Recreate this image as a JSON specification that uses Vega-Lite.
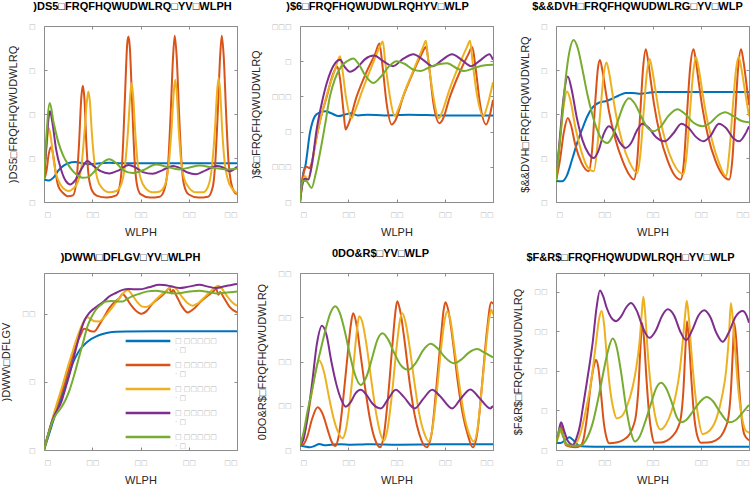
{
"$schema": "https://vega.github.io/schema/vega-lite/v6.json",
"padding": {"left": 0, "top": 0, "right": 0, "bottom": 0},
"background": "white",
"datasets": {
"p1": [
{"s":1,"t":0,"v":0.51},{"s":1,"t":2,"v":0.49},{"s":1,"t":4,"v":0.56},{"s":1,"t":6,"v":0.72},{"s":1,"t":8,"v":0.82},{"s":1,"t":10,"v":0.88},{"s":1,"t":13,"v":0.91},{"s":1,"t":16,"v":0.88},{"s":1,"t":19,"v":0.86},{"s":1,"t":23,"v":0.88},{"s":1,"t":27,"v":0.89},{"s":1,"t":32,"v":0.88},{"s":1,"t":40,"v":0.88},{"s":1,"t":50,"v":0.88},{"s":1,"t":60,"v":0.88},{"s":1,"t":70,"v":0.88},{"s":1,"t":80,"v":0.88},
{"s":2,"t":0,"v":0.51},{"s":2,"t":1,"v":0.7},{"s":2,"t":2,"v":1.1},{"s":2,"t":3,"v":1.25},{"s":2,"t":4,"v":1.0},{"s":2,"t":5,"v":0.6},{"s":2,"t":6,"v":0.35},{"s":2,"t":8,"v":0.2},{"s":2,"t":10,"v":0.13},{"s":2,"t":12,"v":0.15},{"s":2,"t":13.5,"v":0.5},{"s":2,"t":14.5,"v":1.3},{"s":2,"t":15.5,"v":2.4},{"s":2,"t":16.1,"v":2.64},{"s":2,"t":16.8,"v":2.3},{"s":2,"t":17.5,"v":1.4},{"s":2,"t":18.5,"v":0.6},{"s":2,"t":20,"v":0.25},{"s":2,"t":22,"v":0.14},{"s":2,"t":26,"v":0.1},{"s":2,"t":30,"v":0.15},{"s":2,"t":31.5,"v":0.4},{"s":2,"t":32.5,"v":1.0},{"s":2,"t":33.5,"v":2.3},{"s":2,"t":34.5,"v":3.6},{"s":2,"t":35,"v":3.76},{"s":2,"t":35.6,"v":3.5},{"s":2,"t":36.5,"v":2.3},{"s":2,"t":37.5,"v":1.0},{"s":2,"t":38.5,"v":0.4},{"s":2,"t":40,"v":0.18},{"s":2,"t":44,"v":0.1},{"s":2,"t":48,"v":0.12},{"s":2,"t":50,"v":0.3},{"s":2,"t":51.5,"v":0.9},{"s":2,"t":52.5,"v":2.0},{"s":2,"t":53.5,"v":3.3},{"s":2,"t":54.2,"v":3.78},{"s":2,"t":55,"v":3.3},{"s":2,"t":56,"v":2.0},{"s":2,"t":57,"v":0.9},{"s":2,"t":58,"v":0.4},{"s":2,"t":60,"v":0.17},{"s":2,"t":64,"v":0.1},{"s":2,"t":68,"v":0.12},{"s":2,"t":70,"v":0.35},{"s":2,"t":71,"v":0.9},{"s":2,"t":72,"v":2.0},{"s":2,"t":73,"v":3.3},{"s":2,"t":73.7,"v":3.78},{"s":2,"t":74.5,"v":3.3},{"s":2,"t":75.5,"v":2.0},{"s":2,"t":76.5,"v":0.9},{"s":2,"t":77.5,"v":0.45},{"s":2,"t":79,"v":0.22},{"s":2,"t":80,"v":0.18},
{"s":3,"t":0,"v":0.51},{"s":3,"t":1,"v":1.2},{"s":3,"t":2,"v":1.68},{"s":3,"t":3,"v":1.4},{"s":3,"t":4,"v":0.95},{"s":3,"t":5,"v":0.65},{"s":3,"t":7,"v":0.38},{"s":3,"t":9,"v":0.27},{"s":3,"t":10.5,"v":0.25},{"s":3,"t":12,"v":0.3},{"s":3,"t":14,"v":0.45},{"s":3,"t":15.5,"v":0.8},{"s":3,"t":16.8,"v":1.6},{"s":3,"t":17.8,"v":2.3},{"s":3,"t":18.4,"v":2.51},{"s":3,"t":19,"v":2.3},{"s":3,"t":19.8,"v":1.6},{"s":3,"t":20.8,"v":0.95},{"s":3,"t":22,"v":0.55},{"s":3,"t":24,"v":0.32},{"s":3,"t":27,"v":0.22},{"s":3,"t":30,"v":0.25},{"s":3,"t":32,"v":0.4},{"s":3,"t":33.5,"v":0.8},{"s":3,"t":34.8,"v":1.6},{"s":3,"t":35.8,"v":2.45},{"s":3,"t":36.3,"v":2.7},{"s":3,"t":36.9,"v":2.45},{"s":3,"t":37.8,"v":1.6},{"s":3,"t":38.8,"v":0.9},{"s":3,"t":40,"v":0.55},{"s":3,"t":42,"v":0.32},{"s":3,"t":45,"v":0.22},{"s":3,"t":48,"v":0.24},{"s":3,"t":50,"v":0.37},{"s":3,"t":51.5,"v":0.75},{"s":3,"t":52.8,"v":1.6},{"s":3,"t":53.8,"v":2.5},{"s":3,"t":54.4,"v":2.78},{"s":3,"t":55,"v":2.5},{"s":3,"t":55.9,"v":1.6},{"s":3,"t":56.9,"v":0.9},{"s":3,"t":58,"v":0.55},{"s":3,"t":60,"v":0.33},{"s":3,"t":63,"v":0.22},{"s":3,"t":66,"v":0.22},{"s":3,"t":68,"v":0.35},{"s":3,"t":69.5,"v":0.75},{"s":3,"t":70.8,"v":1.6},{"s":3,"t":71.8,"v":2.55},{"s":3,"t":72.4,"v":2.82},{"s":3,"t":73,"v":2.55},{"s":3,"t":73.9,"v":1.6},{"s":3,"t":74.9,"v":0.9},{"s":3,"t":76,"v":0.55},{"s":3,"t":78,"v":0.3},{"s":3,"t":80,"v":0.2},
{"s":4,"t":0,"v":0.51},{"s":4,"t":1,"v":1.3},{"s":4,"t":2,"v":1.95},{"s":4,"t":2.5,"v":2.06},{"s":4,"t":3.5,"v":1.8},{"s":4,"t":5,"v":1.2},{"s":4,"t":7,"v":0.75},{"s":4,"t":9,"v":0.48},{"s":4,"t":11,"v":0.4},{"s":4,"t":13,"v":0.5},{"s":4,"t":15.5,"v":0.75},{"s":4,"t":18,"v":0.93},{"s":4,"t":20.5,"v":0.82},{"s":4,"t":23.5,"v":0.7},{"s":4,"t":27,"v":0.65},{"s":4,"t":31,"v":0.72},{"s":4,"t":35,"v":0.84},{"s":4,"t":37.5,"v":0.8},{"s":4,"t":41,"v":0.68},{"s":4,"t":45,"v":0.64},{"s":4,"t":49,"v":0.72},{"s":4,"t":53.5,"v":0.82},{"s":4,"t":56,"v":0.78},{"s":4,"t":59.5,"v":0.67},{"s":4,"t":63,"v":0.63},{"s":4,"t":67,"v":0.72},{"s":4,"t":71.5,"v":0.82},{"s":4,"t":74,"v":0.79},{"s":4,"t":77,"v":0.7},{"s":4,"t":80,"v":0.8},
{"s":5,"t":0,"v":0.51},{"s":5,"t":1,"v":1.5},{"s":5,"t":2.4,"v":2.25},{"s":5,"t":4,"v":1.8},{"s":5,"t":6,"v":1.35},{"s":5,"t":8,"v":1.05},{"s":5,"t":10,"v":0.85},{"s":5,"t":12,"v":0.7},{"s":5,"t":14,"v":0.6},{"s":5,"t":16,"v":0.55},{"s":5,"t":18,"v":0.56},{"s":5,"t":21,"v":0.7},{"s":5,"t":24,"v":0.88},{"s":5,"t":27,"v":0.97},{"s":5,"t":30,"v":0.88},{"s":5,"t":33,"v":0.72},{"s":5,"t":36.7,"v":0.66},{"s":5,"t":41,"v":0.72},{"s":5,"t":46.4,"v":0.85},{"s":5,"t":51,"v":0.8},{"s":5,"t":56,"v":0.74},{"s":5,"t":60,"v":0.78},{"s":5,"t":64.5,"v":0.83},{"s":5,"t":70,"v":0.78},{"s":5,"t":75.5,"v":0.74},{"s":5,"t":80,"v":0.76}
],
"p2": [
{"s":1,"t":0,"v":0},{"s":1,"t":1.4,"v":0.42},{"s":1,"t":2.2,"v":0.51},{"s":1,"t":4.1,"v":0.98},{"s":1,"t":6.2,"v":1.22},{"s":1,"t":8,"v":1.27},{"s":1,"t":10.4,"v":1.29},{"s":1,"t":13,"v":1.26},{"s":1,"t":16,"v":1.22},{"s":1,"t":18.5,"v":1.24},{"s":1,"t":21,"v":1.26},{"s":1,"t":24,"v":1.23},{"s":1,"t":28,"v":1.24},{"s":1,"t":35,"v":1.23},{"s":1,"t":45,"v":1.24},{"s":1,"t":60,"v":1.23},{"s":1,"t":80,"v":1.23},
{"s":2,"t":0,"v":0},{"s":2,"t":1,"v":0.3},{"s":2,"t":1.8,"v":0.45},{"s":2,"t":2.8,"v":0.5},{"s":2,"t":3.9,"v":0.48},{"s":2,"t":4.8,"v":0.55},{"s":2,"t":6.2,"v":0.8},{"s":2,"t":8.3,"v":1.15},{"s":2,"t":11.1,"v":1.5},{"s":2,"t":13.5,"v":1.8},{"s":2,"t":15.5,"v":1.92},{"s":2,"t":16.6,"v":1.75},{"s":2,"t":18,"v":1.3},{"s":2,"t":18.9,"v":1.03},{"s":2,"t":20,"v":1.1},{"s":2,"t":23.5,"v":1.5},{"s":2,"t":27.6,"v":1.85},{"s":2,"t":31.1,"v":2.1},{"s":2,"t":32.9,"v":2.25},{"s":2,"t":34.3,"v":1.9},{"s":2,"t":35.9,"v":1.4},{"s":2,"t":38,"v":1.1},{"s":2,"t":39.4,"v":1.15},{"s":2,"t":42.8,"v":1.5},{"s":2,"t":47,"v":1.85},{"s":2,"t":50.4,"v":2.1},{"s":2,"t":52.2,"v":2.2},{"s":2,"t":53.6,"v":1.9},{"s":2,"t":55.3,"v":1.4},{"s":2,"t":57.8,"v":1.12},{"s":2,"t":59.1,"v":1.17},{"s":2,"t":62.2,"v":1.5},{"s":2,"t":66.3,"v":1.85},{"s":2,"t":69.8,"v":2.1},{"s":2,"t":71.4,"v":2.2},{"s":2,"t":72.8,"v":1.9},{"s":2,"t":74.6,"v":1.4},{"s":2,"t":77.1,"v":1.1},{"s":2,"t":78.8,"v":1.25},{"s":2,"t":80,"v":1.45},
{"s":3,"t":0,"v":0},{"s":3,"t":1,"v":0.25},{"s":3,"t":2,"v":0.37},{"s":3,"t":3.2,"v":0.32},{"s":3,"t":4.5,"v":0.45},{"s":3,"t":6.9,"v":0.93},{"s":3,"t":11.1,"v":1.52},{"s":3,"t":14.5,"v":1.88},{"s":3,"t":15.8,"v":2.02},{"s":3,"t":16.6,"v":2.07},{"s":3,"t":17.5,"v":1.9},{"s":3,"t":19,"v":1.5},{"s":3,"t":21.4,"v":1.19},{"s":3,"t":22.5,"v":1.27},{"s":3,"t":26,"v":1.6},{"s":3,"t":30,"v":1.95},{"s":3,"t":33,"v":2.2},{"s":3,"t":34.3,"v":2.28},{"s":3,"t":35.3,"v":2.0},{"s":3,"t":36.8,"v":1.6},{"s":3,"t":39.4,"v":1.22},{"s":3,"t":40.5,"v":1.3},{"s":3,"t":44,"v":1.62},{"s":3,"t":48,"v":1.95},{"s":3,"t":51,"v":2.2},{"s":3,"t":52.2,"v":2.29},{"s":3,"t":53.2,"v":2.0},{"s":3,"t":54.8,"v":1.6},{"s":3,"t":57.6,"v":1.19},{"s":3,"t":58.8,"v":1.27},{"s":3,"t":62,"v":1.6},{"s":3,"t":66,"v":1.95},{"s":3,"t":69.2,"v":2.2},{"s":3,"t":70.5,"v":2.29},{"s":3,"t":71.5,"v":2.0},{"s":3,"t":73,"v":1.6},{"s":3,"t":76,"v":1.22},{"s":3,"t":77.5,"v":1.35},{"s":3,"t":80,"v":1.7},
{"s":4,"t":0,"v":0},{"s":4,"t":1,"v":0.25},{"s":4,"t":2,"v":0.33},{"s":4,"t":3.5,"v":0.32},{"s":4,"t":5,"v":0.55},{"s":4,"t":6.9,"v":1.03},{"s":4,"t":9,"v":1.4},{"s":4,"t":11.1,"v":1.69},{"s":4,"t":14.5,"v":1.97},{"s":4,"t":16.6,"v":2.02},{"s":4,"t":18.5,"v":1.92},{"s":4,"t":20.7,"v":1.85},{"s":4,"t":24,"v":1.92},{"s":4,"t":27,"v":2.03},{"s":4,"t":30.7,"v":2.08},{"s":4,"t":34.5,"v":2.0},{"s":4,"t":38.5,"v":1.93},{"s":4,"t":43,"v":2.04},{"s":4,"t":47,"v":2.1},{"s":4,"t":51,"v":2.02},{"s":4,"t":55,"v":1.93},{"s":4,"t":59,"v":2.02},{"s":4,"t":63,"v":2.1},{"s":4,"t":67,"v":2.02},{"s":4,"t":71,"v":1.93},{"s":4,"t":75,"v":2.02},{"s":4,"t":78.5,"v":2.1},{"s":4,"t":80,"v":2.02},
{"s":5,"t":0,"v":0},{"s":5,"t":1.1,"v":0.3},{"s":5,"t":2.5,"v":0.3},{"s":5,"t":4.8,"v":0.2},{"s":5,"t":6.5,"v":0.4},{"s":5,"t":8.3,"v":0.7},{"s":5,"t":10.4,"v":1.1},{"s":5,"t":12.4,"v":1.5},{"s":5,"t":14.5,"v":1.75},{"s":5,"t":17,"v":1.92},{"s":5,"t":19.5,"v":2.0},{"s":5,"t":22.1,"v":2.04},{"s":5,"t":24.5,"v":1.95},{"s":5,"t":27,"v":1.8},{"s":5,"t":30.4,"v":1.69},{"s":5,"t":33.5,"v":1.78},{"s":5,"t":37,"v":1.93},{"s":5,"t":40,"v":2.0},{"s":5,"t":43.5,"v":1.96},{"s":5,"t":47,"v":1.88},{"s":5,"t":50,"v":1.86},{"s":5,"t":54,"v":1.92},{"s":5,"t":58,"v":1.96},{"s":5,"t":61,"v":1.97},{"s":5,"t":65,"v":1.9},{"s":5,"t":68,"v":1.86},{"s":5,"t":72,"v":1.9},{"s":5,"t":76,"v":1.94},{"s":5,"t":80,"v":1.95}
],
"p3": [
{"s":1,"t":0,"v":0.48},{"s":1,"t":2.5,"v":0.47},{"s":1,"t":4.5,"v":0.6},{"s":1,"t":6.7,"v":0.97},{"s":1,"t":8.8,"v":1.35},{"s":1,"t":10.8,"v":1.65},{"s":1,"t":13,"v":1.95},{"s":1,"t":15,"v":2.14},{"s":1,"t":17.5,"v":2.25},{"s":1,"t":20.5,"v":2.29},{"s":1,"t":23,"v":2.34},{"s":1,"t":26,"v":2.42},{"s":1,"t":28.8,"v":2.48},{"s":1,"t":31.5,"v":2.48},{"s":1,"t":34.4,"v":2.46},{"s":1,"t":38,"v":2.48},{"s":1,"t":41.3,"v":2.5},{"s":1,"t":50,"v":2.5},{"s":1,"t":60,"v":2.5},{"s":1,"t":70,"v":2.5},{"s":1,"t":80,"v":2.5},
{"s":2,"t":0,"v":0.48},{"s":2,"t":1.5,"v":0.9},{"s":2,"t":3.3,"v":1.6},{"s":2,"t":4.9,"v":1.91},{"s":2,"t":6.2,"v":1.75},{"s":2,"t":8,"v":1.3},{"s":2,"t":10.5,"v":0.9},{"s":2,"t":13.6,"v":0.7},{"s":2,"t":15,"v":1.2},{"s":2,"t":16.3,"v":2.3},{"s":2,"t":17.4,"v":3.05},{"s":2,"t":18.2,"v":3.23},{"s":2,"t":19.2,"v":3.0},{"s":2,"t":20.5,"v":2.55},{"s":2,"t":22,"v":2.05},{"s":2,"t":24.5,"v":1.45},{"s":2,"t":27.5,"v":0.95},{"s":2,"t":30,"v":0.65},{"s":2,"t":32.3,"v":0.51},{"s":2,"t":33.6,"v":0.9},{"s":2,"t":34.9,"v":2.0},{"s":2,"t":36.1,"v":3.05},{"s":2,"t":37.2,"v":3.47},{"s":2,"t":38.2,"v":3.2},{"s":2,"t":39.3,"v":2.75},{"s":2,"t":40.7,"v":2.2},{"s":2,"t":43.2,"v":1.5},{"s":2,"t":46.2,"v":0.95},{"s":2,"t":49,"v":0.62},{"s":2,"t":51.7,"v":0.51},{"s":2,"t":53,"v":0.9},{"s":2,"t":54.3,"v":2.0},{"s":2,"t":55.6,"v":3.05},{"s":2,"t":57,"v":3.47},{"s":2,"t":58,"v":3.2},{"s":2,"t":59.1,"v":2.75},{"s":2,"t":60.5,"v":2.2},{"s":2,"t":63,"v":1.5},{"s":2,"t":66,"v":0.95},{"s":2,"t":69,"v":0.62},{"s":2,"t":71.8,"v":0.51},{"s":2,"t":73,"v":0.9},{"s":2,"t":74.3,"v":2.0},{"s":2,"t":75.5,"v":3.05},{"s":2,"t":76.7,"v":3.47},{"s":2,"t":77.7,"v":3.2},{"s":2,"t":78.8,"v":2.75},{"s":2,"t":80,"v":2.2},
{"s":3,"t":0,"v":0.48},{"s":3,"t":1.5,"v":1.3},{"s":3,"t":3,"v":2.1},{"s":3,"t":4.6,"v":2.51},{"s":3,"t":6,"v":2.3},{"s":3,"t":8,"v":1.7},{"s":3,"t":10.5,"v":1.15},{"s":3,"t":13,"v":0.8},{"s":3,"t":15.7,"v":0.7},{"s":3,"t":17.2,"v":1.3},{"s":3,"t":18.6,"v":2.2},{"s":3,"t":19.8,"v":2.9},{"s":3,"t":20.9,"v":3.17},{"s":3,"t":22,"v":2.95},{"s":3,"t":23.3,"v":2.5},{"s":3,"t":25,"v":1.95},{"s":3,"t":27.5,"v":1.35},{"s":3,"t":30.5,"v":0.9},{"s":3,"t":33.7,"v":0.66},{"s":3,"t":35,"v":1.1},{"s":3,"t":36.4,"v":2.1},{"s":3,"t":37.7,"v":2.95},{"s":3,"t":38.8,"v":3.25},{"s":3,"t":39.9,"v":3.0},{"s":3,"t":41.2,"v":2.55},{"s":3,"t":43,"v":1.95},{"s":3,"t":45.5,"v":1.35},{"s":3,"t":48.5,"v":0.9},{"s":3,"t":52.8,"v":0.63},{"s":3,"t":54.2,"v":1.1},{"s":3,"t":55.6,"v":2.1},{"s":3,"t":56.9,"v":2.95},{"s":3,"t":58,"v":3.29},{"s":3,"t":59.1,"v":3.05},{"s":3,"t":60.4,"v":2.6},{"s":3,"t":62.2,"v":2.0},{"s":3,"t":64.7,"v":1.4},{"s":3,"t":67.5,"v":0.9},{"s":3,"t":70.4,"v":0.59},{"s":3,"t":71.8,"v":1.1},{"s":3,"t":73.2,"v":2.1},{"s":3,"t":74.6,"v":3.0},{"s":3,"t":75.7,"v":3.3},{"s":3,"t":76.8,"v":3.05},{"s":3,"t":78.1,"v":2.6},{"s":3,"t":80,"v":1.95},
{"s":4,"t":0,"v":0.48},{"s":4,"t":1.5,"v":1.4},{"s":4,"t":3,"v":2.3},{"s":4,"t":4.9,"v":2.85},{"s":4,"t":6.5,"v":2.55},{"s":4,"t":8.5,"v":1.95},{"s":4,"t":11,"v":1.4},{"s":4,"t":13.5,"v":1.1},{"s":4,"t":15.7,"v":1.0},{"s":4,"t":17.5,"v":1.15},{"s":4,"t":19.8,"v":1.55},{"s":4,"t":21.9,"v":1.72},{"s":4,"t":24,"v":1.62},{"s":4,"t":26.5,"v":1.35},{"s":4,"t":28.8,"v":1.23},{"s":4,"t":31,"v":1.33},{"s":4,"t":33.5,"v":1.62},{"s":4,"t":35.8,"v":1.78},{"s":4,"t":38.5,"v":1.68},{"s":4,"t":41.5,"v":1.47},{"s":4,"t":45,"v":1.38},{"s":4,"t":48.5,"v":1.55},{"s":4,"t":52,"v":1.78},{"s":4,"t":55,"v":1.68},{"s":4,"t":58,"v":1.48},{"s":4,"t":61,"v":1.38},{"s":4,"t":64,"v":1.5},{"s":4,"t":67.5,"v":1.78},{"s":4,"t":70.5,"v":1.68},{"s":4,"t":73.5,"v":1.45},{"s":4,"t":76,"v":1.38},{"s":4,"t":78.5,"v":1.55},{"s":4,"t":80,"v":1.72},
{"s":5,"t":0,"v":0.48},{"s":5,"t":2,"v":1.6},{"s":5,"t":4,"v":2.8},{"s":5,"t":5.5,"v":3.4},{"s":5,"t":7.3,"v":3.68},{"s":5,"t":9,"v":3.5},{"s":5,"t":11,"v":3.0},{"s":5,"t":13,"v":2.45},{"s":5,"t":15,"v":2.0},{"s":5,"t":17,"v":1.65},{"s":5,"t":19,"v":1.42},{"s":5,"t":21.2,"v":1.34},{"s":5,"t":23.5,"v":1.5},{"s":5,"t":26,"v":1.9},{"s":5,"t":28,"v":2.2},{"s":5,"t":30.2,"v":2.36},{"s":5,"t":32.5,"v":2.25},{"s":5,"t":35,"v":1.98},{"s":5,"t":37.5,"v":1.72},{"s":5,"t":40.6,"v":1.61},{"s":5,"t":43.5,"v":1.72},{"s":5,"t":46.5,"v":1.95},{"s":5,"t":50.3,"v":2.11},{"s":5,"t":53.5,"v":2.0},{"s":5,"t":57,"v":1.8},{"s":5,"t":60.7,"v":1.72},{"s":5,"t":64,"v":1.8},{"s":5,"t":67,"v":1.96},{"s":5,"t":70.2,"v":2.04},{"s":5,"t":73.5,"v":1.95},{"s":5,"t":77,"v":1.84},{"s":5,"t":80,"v":1.81}
],
"p4": [
{"s":1,"t":0,"v":0},{"s":1,"t":2,"v":1.1},{"s":1,"t":3.5,"v":1.96},{"s":1,"t":5,"v":2.8},{"s":1,"t":6.9,"v":3.68},{"s":1,"t":8.7,"v":4.7},{"s":1,"t":10.4,"v":5.6},{"s":1,"t":12,"v":6.4},{"s":1,"t":13.2,"v":6.86},{"s":1,"t":15,"v":7.4},{"s":1,"t":17.3,"v":7.84},{"s":1,"t":19.5,"v":8.15},{"s":1,"t":21.5,"v":8.33},{"s":1,"t":24,"v":8.5},{"s":1,"t":27,"v":8.63},{"s":1,"t":30,"v":8.68},{"s":1,"t":34,"v":8.7},{"s":1,"t":50,"v":8.72},{"s":1,"t":80,"v":8.72},
{"s":2,"t":0,"v":0},{"s":2,"t":1.5,"v":1.0},{"s":2,"t":3.5,"v":2.2},{"s":2,"t":5.5,"v":3.3},{"s":2,"t":7.6,"v":4.4},{"s":2,"t":9.7,"v":5.6},{"s":2,"t":11.8,"v":6.86},{"s":2,"t":13.6,"v":7.8},{"s":2,"t":15.3,"v":8.5},{"s":2,"t":16.6,"v":8.9},{"s":2,"t":18,"v":8.85},{"s":2,"t":19.5,"v":8.72},{"s":2,"t":20.8,"v":8.7},{"s":2,"t":22.9,"v":9.19},{"s":2,"t":25,"v":9.8},{"s":2,"t":27,"v":10.4},{"s":2,"t":29.5,"v":10.9},{"s":2,"t":31.2,"v":11.15},{"s":2,"t":32.6,"v":11.45},{"s":2,"t":34,"v":11.2},{"s":2,"t":36,"v":10.66},{"s":2,"t":38,"v":10.25},{"s":2,"t":40.5,"v":10.0},{"s":2,"t":42.5,"v":10.2},{"s":2,"t":45,"v":10.75},{"s":2,"t":48,"v":11.2},{"s":2,"t":50.5,"v":11.6},{"s":2,"t":52,"v":11.9},{"s":2,"t":52.8,"v":11.5},{"s":2,"t":53.5,"v":11.75},{"s":2,"t":55,"v":11.3},{"s":2,"t":57,"v":10.6},{"s":2,"t":59.6,"v":10.1},{"s":2,"t":62,"v":10.35},{"s":2,"t":65,"v":10.9},{"s":2,"t":68,"v":11.35},{"s":2,"t":70.5,"v":11.7},{"s":2,"t":71.4,"v":11.85},{"s":2,"t":72.3,"v":11.4},{"s":2,"t":73,"v":11.6},{"s":2,"t":74.5,"v":11.2},{"s":2,"t":77,"v":10.5},{"s":2,"t":80,"v":10.1},
{"s":3,"t":0,"v":0},{"s":3,"t":1.5,"v":1.0},{"s":3,"t":3.5,"v":2.3},{"s":3,"t":5.5,"v":3.5},{"s":3,"t":7.6,"v":4.7},{"s":3,"t":9.7,"v":6.0},{"s":3,"t":11.8,"v":7.2},{"s":3,"t":13.6,"v":8.2},{"s":3,"t":15.3,"v":9.0},{"s":3,"t":16.6,"v":9.5},{"s":3,"t":18,"v":9.75},{"s":3,"t":19.5,"v":9.6},{"s":3,"t":21,"v":9.45},{"s":3,"t":22.9,"v":9.44},{"s":3,"t":25,"v":9.75},{"s":3,"t":28,"v":10.4},{"s":3,"t":31,"v":11.1},{"s":3,"t":33,"v":11.55},{"s":3,"t":34.7,"v":11.76},{"s":3,"t":36.5,"v":11.4},{"s":3,"t":38.5,"v":10.9},{"s":3,"t":40.5,"v":10.55},{"s":3,"t":42.3,"v":10.5},{"s":3,"t":44.5,"v":10.7},{"s":3,"t":47,"v":11.15},{"s":3,"t":50,"v":11.6},{"s":3,"t":52,"v":11.9},{"s":3,"t":53.4,"v":12.0},{"s":3,"t":55,"v":11.8},{"s":3,"t":57,"v":11.3},{"s":3,"t":59.5,"v":10.8},{"s":3,"t":61.7,"v":10.6},{"s":3,"t":64,"v":10.8},{"s":3,"t":67,"v":11.3},{"s":3,"t":70,"v":11.8},{"s":3,"t":72.1,"v":12.06},{"s":3,"t":73.5,"v":11.9},{"s":3,"t":75.5,"v":11.4},{"s":3,"t":78,"v":10.85},{"s":3,"t":80,"v":10.6},
{"s":4,"t":0,"v":0},{"s":4,"t":1.5,"v":1.0},{"s":4,"t":3.5,"v":2.2},{"s":4,"t":5,"v":2.8},{"s":4,"t":6.9,"v":3.4},{"s":4,"t":9,"v":4.6},{"s":4,"t":11.1,"v":5.9},{"s":4,"t":13.2,"v":7.4},{"s":4,"t":15.3,"v":8.8},{"s":4,"t":17,"v":9.6},{"s":4,"t":18.7,"v":10.05},{"s":4,"t":20.8,"v":10.4},{"s":4,"t":22.9,"v":10.66},{"s":4,"t":25,"v":10.95},{"s":4,"t":27,"v":11.27},{"s":4,"t":30,"v":11.55},{"s":4,"t":32.6,"v":11.76},{"s":4,"t":35,"v":11.82},{"s":4,"t":39.5,"v":11.8},{"s":4,"t":43.5,"v":11.95},{"s":4,"t":47.8,"v":12.13},{"s":4,"t":52,"v":12.05},{"s":4,"t":56.1,"v":11.9},{"s":4,"t":60,"v":12.0},{"s":4,"t":64.5,"v":12.13},{"s":4,"t":68,"v":12.0},{"s":4,"t":71.4,"v":11.9},{"s":4,"t":75.5,"v":12.05},{"s":4,"t":80,"v":12.2},
{"s":5,"t":0,"v":0},{"s":5,"t":1.5,"v":1.0},{"s":5,"t":3.5,"v":2.1},{"s":5,"t":5,"v":2.6},{"s":5,"t":6.9,"v":3.06},{"s":5,"t":8.7,"v":3.6},{"s":5,"t":10.4,"v":4.3},{"s":5,"t":12.5,"v":5.5},{"s":5,"t":14.6,"v":6.86},{"s":5,"t":16.5,"v":8.1},{"s":5,"t":18,"v":9.07},{"s":5,"t":19.8,"v":9.8},{"s":5,"t":21.5,"v":10.3},{"s":5,"t":23.5,"v":10.65},{"s":5,"t":25.6,"v":10.9},{"s":5,"t":28,"v":10.95},{"s":5,"t":30.5,"v":10.9},{"s":5,"t":32.6,"v":10.9},{"s":5,"t":34.5,"v":11.1},{"s":5,"t":36.7,"v":11.3},{"s":5,"t":40,"v":11.5},{"s":5,"t":43,"v":11.65},{"s":5,"t":46.4,"v":11.7},{"s":5,"t":50,"v":11.6},{"s":5,"t":54.8,"v":11.5},{"s":5,"t":59,"v":11.6},{"s":5,"t":64.5,"v":11.7},{"s":5,"t":68,"v":11.6},{"s":5,"t":71.4,"v":11.5},{"s":5,"t":75,"v":11.55},{"s":5,"t":80,"v":11.64}
],
"p5": [
{"s":1,"t":0,"v":1.0},{"s":1,"t":2,"v":0.8},{"s":1,"t":3.9,"v":0.6},{"s":1,"t":6,"v":0.9},{"s":1,"t":8,"v":1.36},{"s":1,"t":10,"v":1.1},{"s":1,"t":13,"v":1.2},{"s":1,"t":17,"v":1.3},{"s":1,"t":21,"v":1.2},{"s":1,"t":26,"v":1.25},{"s":1,"t":30,"v":1.3},{"s":1,"t":40,"v":1.2},{"s":1,"t":50,"v":1.25},{"s":1,"t":60,"v":1.28},{"s":1,"t":70,"v":1.28},{"s":1,"t":80,"v":1.28},
{"s":2,"t":0,"v":1.0},{"s":2,"t":1.5,"v":1.3},{"s":2,"t":3,"v":3.0},{"s":2,"t":5,"v":7.0},{"s":2,"t":7.3,"v":9.66},{"s":2,"t":9.5,"v":8.0},{"s":2,"t":11.5,"v":4.5},{"s":2,"t":13.2,"v":1.8},{"s":2,"t":14.6,"v":0.9},{"s":2,"t":16,"v":3.0},{"s":2,"t":18,"v":12},{"s":2,"t":20,"v":23},{"s":2,"t":21,"v":28},{"s":2,"t":22,"v":30.9},{"s":2,"t":23.2,"v":29},{"s":2,"t":25,"v":22},{"s":2,"t":27,"v":14},{"s":2,"t":29,"v":7.0},{"s":2,"t":31,"v":2.5},{"s":2,"t":33.2,"v":0.6},{"s":2,"t":34.8,"v":3.5},{"s":2,"t":36.5,"v":12},{"s":2,"t":38.5,"v":25},{"s":2,"t":39.5,"v":31},{"s":2,"t":40.3,"v":33.6},{"s":2,"t":41.5,"v":31.5},{"s":2,"t":43.5,"v":24},{"s":2,"t":45.5,"v":15},{"s":2,"t":47.5,"v":8},{"s":2,"t":49.5,"v":3.5},{"s":2,"t":52.5,"v":0.6},{"s":2,"t":54.5,"v":3.5},{"s":2,"t":56.5,"v":14},{"s":2,"t":58.5,"v":26},{"s":2,"t":59.5,"v":31.5},{"s":2,"t":60.3,"v":33.4},{"s":2,"t":61.5,"v":31.5},{"s":2,"t":63.5,"v":24},{"s":2,"t":65.5,"v":15},{"s":2,"t":67.5,"v":8},{"s":2,"t":69.5,"v":3.5},{"s":2,"t":71.6,"v":0.6},{"s":2,"t":73.5,"v":4},{"s":2,"t":75.5,"v":15},{"s":2,"t":77.5,"v":27},{"s":2,"t":79.3,"v":33.4},{"s":2,"t":80,"v":33},
{"s":3,"t":0,"v":1.0},{"s":3,"t":2,"v":4.0},{"s":3,"t":4,"v":10},{"s":3,"t":6,"v":16.5},{"s":3,"t":8,"v":20.2},{"s":3,"t":10,"v":17.5},{"s":3,"t":12,"v":12},{"s":3,"t":14,"v":7.0},{"s":3,"t":16,"v":3.8},{"s":3,"t":17.6,"v":2.64},{"s":3,"t":19,"v":4.5},{"s":3,"t":20.5,"v":10},{"s":3,"t":22,"v":18},{"s":3,"t":23.5,"v":26.5},{"s":3,"t":24.5,"v":30.2},{"s":3,"t":25.8,"v":29},{"s":3,"t":27.5,"v":24},{"s":3,"t":29.5,"v":16},{"s":3,"t":31.5,"v":8.5},{"s":3,"t":33.3,"v":3.8},{"s":3,"t":34.8,"v":2.1},{"s":3,"t":36.2,"v":4.5},{"s":3,"t":38,"v":12},{"s":3,"t":40,"v":23},{"s":3,"t":41.5,"v":29.5},{"s":3,"t":42.4,"v":30.9},{"s":3,"t":43.7,"v":29},{"s":3,"t":45.5,"v":23},{"s":3,"t":47.5,"v":15},{"s":3,"t":49.5,"v":8},{"s":3,"t":51.5,"v":3.8},{"s":3,"t":53.4,"v":1.9},{"s":3,"t":54.8,"v":4.5},{"s":3,"t":56.5,"v":12},{"s":3,"t":58.5,"v":23},{"s":3,"t":60,"v":29.5},{"s":3,"t":61,"v":31.3},{"s":3,"t":62.3,"v":29.5},{"s":3,"t":64,"v":23},{"s":3,"t":66,"v":15},{"s":3,"t":68,"v":8},{"s":3,"t":70,"v":3.8},{"s":3,"t":72,"v":1.9},{"s":3,"t":73.5,"v":4.5},{"s":3,"t":75,"v":12},{"s":3,"t":77,"v":23},{"s":3,"t":78.5,"v":30},{"s":3,"t":79.3,"v":31.7},{"s":3,"t":80,"v":30.6},
{"s":4,"t":0,"v":1.0},{"s":4,"t":1.5,"v":2.5},{"s":4,"t":3,"v":7},{"s":4,"t":5,"v":15},{"s":4,"t":7,"v":24},{"s":4,"t":9.1,"v":28.1},{"s":4,"t":11,"v":26},{"s":4,"t":13,"v":20},{"s":4,"t":15,"v":15},{"s":4,"t":17,"v":11.5},{"s":4,"t":19,"v":9.8},{"s":4,"t":21,"v":10.8},{"s":4,"t":23,"v":12.8},{"s":4,"t":25.2,"v":13.6},{"s":4,"t":27.5,"v":12.5},{"s":4,"t":30,"v":10.5},{"s":4,"t":33.5,"v":9.4},{"s":4,"t":36.5,"v":11.5},{"s":4,"t":39.7,"v":13.6},{"s":4,"t":43,"v":12},{"s":4,"t":47.6,"v":9.4},{"s":4,"t":51,"v":11.5},{"s":4,"t":54.8,"v":13.6},{"s":4,"t":58,"v":12.2},{"s":4,"t":63.1,"v":9.4},{"s":4,"t":66.5,"v":11.5},{"s":4,"t":70.6,"v":13.7},{"s":4,"t":74,"v":12},{"s":4,"t":78.9,"v":9.4},{"s":4,"t":80,"v":10.0},
{"s":5,"t":0,"v":1.0},{"s":5,"t":1.5,"v":4},{"s":5,"t":3.2,"v":9},{"s":5,"t":5,"v":13.5},{"s":5,"t":6.6,"v":18},{"s":5,"t":8.5,"v":22.5},{"s":5,"t":10.5,"v":27},{"s":5,"t":12.5,"v":30.8},{"s":5,"t":14.6,"v":32.5},{"s":5,"t":16.5,"v":31},{"s":5,"t":18.5,"v":27},{"s":5,"t":20.5,"v":22},{"s":5,"t":22.5,"v":17.5},{"s":5,"t":25.2,"v":14.7},{"s":5,"t":27.5,"v":16.5},{"s":5,"t":30,"v":21},{"s":5,"t":32,"v":24.8},{"s":5,"t":34.2,"v":26.4},{"s":5,"t":36.5,"v":25},{"s":5,"t":39,"v":22},{"s":5,"t":42,"v":19},{"s":5,"t":44.9,"v":18.1},{"s":5,"t":48,"v":19.7},{"s":5,"t":51,"v":22.5},{"s":5,"t":54.1,"v":24},{"s":5,"t":57,"v":23},{"s":5,"t":60,"v":21},{"s":5,"t":63.8,"v":19.6},{"s":5,"t":67,"v":20.5},{"s":5,"t":70,"v":22},{"s":5,"t":73.4,"v":22.8},{"s":5,"t":76.5,"v":22},{"s":5,"t":80,"v":20.9}
],
"p6": [
{"s":1,"t":0,"v":0.93},{"s":1,"t":2,"v":0.9},{"s":1,"t":4,"v":1.3},{"s":1,"t":5.5,"v":1.6},{"s":1,"t":7,"v":1.3},{"s":1,"t":8.5,"v":0.8},{"s":1,"t":9.7,"v":0.5},{"s":1,"t":12,"v":0.45},{"s":1,"t":20,"v":0.42},{"s":1,"t":40,"v":0.42},{"s":1,"t":60,"v":0.42},{"s":1,"t":80,"v":0.42},
{"s":2,"t":0,"v":0.93},{"s":2,"t":1,"v":1.8},{"s":2,"t":2.1,"v":3.05},{"s":2,"t":3,"v":2.0},{"s":2,"t":4.1,"v":0.6},{"s":2,"t":6,"v":0.4},{"s":2,"t":8,"v":0.35},{"s":2,"t":10,"v":0.5},{"s":2,"t":11.5,"v":1.5},{"s":2,"t":13,"v":4.5},{"s":2,"t":14.5,"v":8.5},{"s":2,"t":15.8,"v":10.8},{"s":2,"t":16.6,"v":11.4},{"s":2,"t":17.5,"v":10.5},{"s":2,"t":18.7,"v":7},{"s":2,"t":19.8,"v":3.5},{"s":2,"t":21,"v":1.5},{"s":2,"t":22.1,"v":0.85},{"s":2,"t":25,"v":0.95},{"s":2,"t":28,"v":1.3},{"s":2,"t":30.5,"v":2.0},{"s":2,"t":32,"v":3.0},{"s":2,"t":33.2,"v":4.5},{"s":2,"t":34.2,"v":8},{"s":2,"t":35,"v":13},{"s":2,"t":35.7,"v":16.1},{"s":2,"t":36.5,"v":14},{"s":2,"t":37.5,"v":9},{"s":2,"t":38.6,"v":4.5},{"s":2,"t":39.7,"v":2.0},{"s":2,"t":40.8,"v":0.93},{"s":2,"t":43.5,"v":0.95},{"s":2,"t":46,"v":1.2},{"s":2,"t":48.4,"v":1.8},{"s":2,"t":50.5,"v":2.8},{"s":2,"t":51.8,"v":4.2},{"s":2,"t":52.8,"v":7.5},{"s":2,"t":53.6,"v":12.5},{"s":2,"t":54.3,"v":16.3},{"s":2,"t":55.1,"v":14},{"s":2,"t":56.1,"v":9},{"s":2,"t":57.2,"v":4.5},{"s":2,"t":58.4,"v":2.0},{"s":2,"t":60.1,"v":0.93},{"s":2,"t":63,"v":0.95},{"s":2,"t":66,"v":1.2},{"s":2,"t":68.5,"v":1.8},{"s":2,"t":70.2,"v":2.8},{"s":2,"t":71.5,"v":4.2},{"s":2,"t":72.5,"v":7.5},{"s":2,"t":73.3,"v":12.5},{"s":2,"t":73.9,"v":16.1},{"s":2,"t":74.7,"v":14},{"s":2,"t":75.7,"v":9},{"s":2,"t":76.8,"v":4.5},{"s":2,"t":78,"v":2.0},{"s":2,"t":80,"v":1.2},
{"s":3,"t":0,"v":0.93},{"s":3,"t":1,"v":1.7},{"s":3,"t":2.1,"v":2.5},{"s":3,"t":3,"v":1.8},{"s":3,"t":4.1,"v":0.8},{"s":3,"t":5.5,"v":0.6},{"s":3,"t":7,"v":0.65},{"s":3,"t":9,"v":1.2},{"s":3,"t":10.5,"v":2.5},{"s":3,"t":12.4,"v":5.1},{"s":3,"t":14.5,"v":8.5},{"s":3,"t":16.6,"v":13.6},{"s":3,"t":17.8,"v":16.5},{"s":3,"t":18.9,"v":17.6},{"s":3,"t":19.9,"v":16},{"s":3,"t":21,"v":12},{"s":3,"t":22.3,"v":8},{"s":3,"t":23.8,"v":5.2},{"s":3,"t":25.2,"v":4.0},{"s":3,"t":27,"v":4.2},{"s":3,"t":29.5,"v":5.6},{"s":3,"t":31.8,"v":8},{"s":3,"t":33.3,"v":10.5},{"s":3,"t":34.6,"v":13.6},{"s":3,"t":35.6,"v":17.5},{"s":3,"t":36.2,"v":19.4},{"s":3,"t":36.9,"v":17.5},{"s":3,"t":38,"v":12.5},{"s":3,"t":39.3,"v":8},{"s":3,"t":40.8,"v":4.8},{"s":3,"t":42,"v":3.2},{"s":3,"t":43.3,"v":2.6},{"s":3,"t":45.5,"v":3.2},{"s":3,"t":47.8,"v":4.8},{"s":3,"t":49.8,"v":7.2},{"s":3,"t":51.3,"v":10},{"s":3,"t":52.5,"v":13.6},{"s":3,"t":53.5,"v":17},{"s":3,"t":54.2,"v":18.9},{"s":3,"t":55,"v":17},{"s":3,"t":56.1,"v":12.5},{"s":3,"t":57.4,"v":8},{"s":3,"t":58.8,"v":4.5},{"s":3,"t":60.8,"v":2.0},{"s":3,"t":63.5,"v":2.4},{"s":3,"t":66.5,"v":4.0},{"s":3,"t":69.1,"v":7.2},{"s":3,"t":70.5,"v":10},{"s":3,"t":71.7,"v":14.5},{"s":3,"t":72.5,"v":18.6},{"s":3,"t":73.3,"v":16.5},{"s":3,"t":74.4,"v":12},{"s":3,"t":75.6,"v":7.5},{"s":3,"t":77,"v":4.3},{"s":3,"t":78.5,"v":2.5},{"s":3,"t":80,"v":2.2},
{"s":4,"t":0,"v":0.93},{"s":4,"t":1,"v":2.2},{"s":4,"t":2.1,"v":3.5},{"s":4,"t":3.5,"v":2.3},{"s":4,"t":5,"v":1.1},{"s":4,"t":6.9,"v":0.64},{"s":4,"t":8.5,"v":1.5},{"s":4,"t":10,"v":3.2},{"s":4,"t":11,"v":5.1},{"s":4,"t":13,"v":9},{"s":4,"t":15.2,"v":13.6},{"s":4,"t":16.8,"v":18},{"s":4,"t":18.2,"v":20.2},{"s":4,"t":19.5,"v":19.5},{"s":4,"t":21,"v":18},{"s":4,"t":22.8,"v":16.8},{"s":4,"t":24.9,"v":16.3},{"s":4,"t":27,"v":16.9},{"s":4,"t":29,"v":18},{"s":4,"t":31.1,"v":18.6},{"s":4,"t":33.5,"v":17.6},{"s":4,"t":36,"v":15.5},{"s":4,"t":38.7,"v":14.2},{"s":4,"t":41.5,"v":15.2},{"s":4,"t":44,"v":17},{"s":4,"t":46.3,"v":17.8},{"s":4,"t":49,"v":17},{"s":4,"t":51.5,"v":15},{"s":4,"t":53.9,"v":13.9},{"s":4,"t":56.5,"v":15.2},{"s":4,"t":59,"v":17},{"s":4,"t":61.5,"v":17.7},{"s":4,"t":64,"v":16.8},{"s":4,"t":66.5,"v":14.8},{"s":4,"t":69.1,"v":13.7},{"s":4,"t":71.5,"v":14.8},{"s":4,"t":74.5,"v":16.9},{"s":4,"t":77.4,"v":17.6},{"s":4,"t":79,"v":17},{"s":4,"t":80,"v":16.1},
{"s":5,"t":0,"v":0.93},{"s":5,"t":0.9,"v":2.0},{"s":5,"t":1.7,"v":2.75},{"s":5,"t":2.8,"v":1.8},{"s":5,"t":4.8,"v":0.64},{"s":5,"t":7,"v":0.55},{"s":5,"t":10.4,"v":0.6},{"s":5,"t":12.5,"v":1.3},{"s":5,"t":15.2,"v":3.4},{"s":5,"t":17.5,"v":6.5},{"s":5,"t":19.3,"v":9.3},{"s":5,"t":21.5,"v":12.5},{"s":5,"t":23.5,"v":14.1},{"s":5,"t":25,"v":13.2},{"s":5,"t":27,"v":9.8},{"s":5,"t":29,"v":5.5},{"s":5,"t":31,"v":2.3},{"s":5,"t":32.7,"v":1.06},{"s":5,"t":34.5,"v":1.6},{"s":5,"t":37,"v":3.6},{"s":5,"t":39.5,"v":6.0},{"s":5,"t":41.5,"v":7.8},{"s":5,"t":43.5,"v":8.5},{"s":5,"t":45.5,"v":7.9},{"s":5,"t":48,"v":6.0},{"s":5,"t":50,"v":4.2},{"s":5,"t":51.8,"v":3.5},{"s":5,"t":54,"v":3.8},{"s":5,"t":57,"v":5.0},{"s":5,"t":60,"v":6.2},{"s":5,"t":62.4,"v":6.7},{"s":5,"t":65,"v":6.2},{"s":5,"t":68,"v":4.8},{"s":5,"t":71.8,"v":3.5},{"s":5,"t":74.5,"v":3.8},{"s":5,"t":77.5,"v":4.8},{"s":5,"t":80,"v":5.7}
]
},
"columns": 3,
"spacing": {"column": 63, "row": 71},
"bounds": "flush",
"resolve": {"legend": {"color": "independent"}},
"concat": [
{
"data": {"name": "p1"},
"width": 193, "height": 176,
"title": {"text": ")DS5□FRQFHQWUDWLRQ□YV□WLPH", "dx": -8},
"resolve": {"scale": {"x": "independent", "y": "independent"}},
"layer": [
{"mark": {"type": "line", "interpolate": "monotone", "strokeWidth": 2, "clip": true},
"encoding": {
"x": {"field": "t", "type": "quantitative", "scale": {"domain": [0, 80], "nice": false}, "axis": {"values": [0, 20, 40, 60, 80], "labelExpr": "datum.value == 0 ? '□' : '□□'", "title": "WLPH"}},
"y": {"field": "v", "type": "quantitative", "scale": {"domain": [0, 4], "nice": false}, "axis": {"values": [0, 1, 2, 3, 4], "labelExpr": "'□'", "title": ")DS5□FRQFHQWUDWLRQ"}},
"color": {"field": "s", "type": "nominal", "scale": {"domain": [1, 2, 3, 4, 5], "range": ["#0072BD", "#D95319", "#EDB120", "#7E2F8E", "#77AC30"]}, "legend": null}
}},
{"mark": {"type": "line", "opacity": 0},
"encoding": {
"x": {"field": "t", "type": "quantitative", "scale": {"domain": [0, 80], "nice": false}, "axis": {"orient": "top", "values": [0, 20, 40, 60, 80], "labels": false, "title": null}},
"y": {"field": "v", "type": "quantitative", "scale": {"domain": [0, 4], "nice": false}, "axis": {"orient": "right", "values": [0, 1, 2, 3, 4], "labels": false, "title": null}}
}}
]
},
{
"data": {"name": "p2"},
"width": 193, "height": 176,
"title": {"text": ")$6□FRQFHQWUDWLRQHYV□WLP", "dx": -19},
"resolve": {"scale": {"x": "independent", "y": "independent"}},
"layer": [
{"mark": {"type": "line", "interpolate": "monotone", "strokeWidth": 2, "clip": true},
"encoding": {
"x": {"field": "t", "type": "quantitative", "scale": {"domain": [0, 80], "nice": false}, "axis": {"values": [0, 20, 40, 60, 80], "labelExpr": "datum.value == 0 ? '□' : '□□'", "title": "WLPH"}},
"y": {"field": "v", "type": "quantitative", "scale": {"domain": [0, 2.5], "nice": false}, "axis": {"values": [0, 0.5, 1, 1.5, 2, 2.5], "labelExpr": "datum.value % 1 == 0 ? '□' : '□□□'", "title": ")$6□FRQFHQWUDWLRQ"}},
"color": {"field": "s", "type": "nominal", "scale": {"domain": [1, 2, 3, 4, 5], "range": ["#0072BD", "#D95319", "#EDB120", "#7E2F8E", "#77AC30"]}, "legend": null}
}},
{"mark": {"type": "line", "opacity": 0},
"encoding": {
"x": {"field": "t", "type": "quantitative", "scale": {"domain": [0, 80], "nice": false}, "axis": {"orient": "top", "values": [0, 20, 40, 60, 80], "labels": false, "title": null}},
"y": {"field": "v", "type": "quantitative", "scale": {"domain": [0, 2.5], "nice": false}, "axis": {"orient": "right", "values": [0, 0.5, 1, 1.5, 2, 2.5], "labels": false, "title": null}}
}}
]
},
{
"data": {"name": "p3"},
"width": 193, "height": 176,
"title": {"text": "$&&DVH□FRQFHQWUDWLRG□YV□WLP", "dx": -15},
"resolve": {"scale": {"x": "independent", "y": "independent"}},
"layer": [
{"mark": {"type": "line", "interpolate": "monotone", "strokeWidth": 2, "clip": true},
"encoding": {
"x": {"field": "t", "type": "quantitative", "scale": {"domain": [0, 80], "nice": false}, "axis": {"values": [0, 20, 40, 60, 80], "labelExpr": "datum.value == 0 ? '□' : '□□'", "title": "WLPH"}},
"y": {"field": "v", "type": "quantitative", "scale": {"domain": [0, 4], "nice": false}, "axis": {"values": [0, 1, 2, 3, 4], "labelExpr": "'□'", "title": "$&&DVH□FRQFHQWUDWLRQ"}},
"color": {"field": "s", "type": "nominal", "scale": {"domain": [1, 2, 3, 4, 5], "range": ["#0072BD", "#D95319", "#EDB120", "#7E2F8E", "#77AC30"]}, "legend": null}
}},
{"mark": {"type": "line", "opacity": 0},
"encoding": {
"x": {"field": "t", "type": "quantitative", "scale": {"domain": [0, 80], "nice": false}, "axis": {"orient": "top", "values": [0, 20, 40, 60, 80], "labels": false, "title": null}},
"y": {"field": "v", "type": "quantitative", "scale": {"domain": [0, 4], "nice": false}, "axis": {"orient": "right", "values": [0, 1, 2, 3, 4], "labels": false, "title": null}}
}}
]
},
{
"data": {"name": "p4"},
"width": 193, "height": 177,
"title": {"text": ")DWW\\□DFLGV□YV□WLPH", "dx": -10},
"resolve": {"scale": {"x": "independent", "y": "independent"}},
"layer": [
{"mark": {"type": "line", "interpolate": "monotone", "strokeWidth": 2, "clip": true},
"encoding": {
"x": {"field": "t", "type": "quantitative", "scale": {"domain": [0, 80], "nice": false}, "axis": {"values": [0, 20, 40, 60, 80], "labelExpr": "datum.value == 0 ? '□' : '□□'", "title": "WLPH"}},
"y": {"field": "v", "type": "quantitative", "scale": {"domain": [0, 13], "nice": false}, "axis": {"values": [0, 5, 10], "labelExpr": "datum.value >= 10 ? '□□' : '□'", "title": ")DWW\\□DFLGV"}},
"color": {"field": "s", "type": "nominal", "scale": {"domain": [1, 2, 3, 4, 5], "range": ["#0072BD", "#D95319", "#EDB120", "#7E2F8E", "#77AC30"]},
 "legend": {"orient": "none", "legendX": 95, "legendY": 59, "title": null, "symbolType": "M-3,0H3", "symbolStrokeWidth": 2.5, "symbolSize": 222, "symbolFillColor": "transparent", "labelExpr": "['       □ □□□□□', '·  □']", "labelFont": "DejaVu Sans", "labelFontSize": 7, "labelLineHeight": 8, "labelColor": "#b5b5b5", "labelOffset": 18, "rowPadding": 3, "padding": 0}}
}},
{"mark": {"type": "line", "opacity": 0},
"encoding": {
"x": {"field": "t", "type": "quantitative", "scale": {"domain": [0, 80], "nice": false}, "axis": {"orient": "top", "values": [0, 20, 40, 60, 80], "labels": false, "title": null}},
"y": {"field": "v", "type": "quantitative", "scale": {"domain": [0, 13], "nice": false}, "axis": {"orient": "right", "values": [0, 5, 10], "labels": false, "title": null}}
}}
]
},
{
"data": {"name": "p5"},
"width": 193, "height": 177,
"title": {"text": "0DO&R$□YV□WLP", "dx": -16},
"resolve": {"scale": {"x": "independent", "y": "independent"}},
"layer": [
{"mark": {"type": "line", "interpolate": "monotone", "strokeWidth": 2, "clip": true},
"encoding": {
"x": {"field": "t", "type": "quantitative", "scale": {"domain": [0, 80], "nice": false}, "axis": {"values": [0, 20, 40, 60, 80], "labelExpr": "datum.value == 0 ? '□' : '□□'", "title": "WLPH"}},
"y": {"field": "v", "type": "quantitative", "scale": {"domain": [0, 40], "nice": false}, "axis": {"values": [0, 10, 20, 30, 40], "labelExpr": "datum.value >= 10 ? '□□' : '□'", "title": "0DO&R$□FRQFHQWUDWLRQ"}},
"color": {"field": "s", "type": "nominal", "scale": {"domain": [1, 2, 3, 4, 5], "range": ["#0072BD", "#D95319", "#EDB120", "#7E2F8E", "#77AC30"]}, "legend": null}
}},
{"mark": {"type": "line", "opacity": 0},
"encoding": {
"x": {"field": "t", "type": "quantitative", "scale": {"domain": [0, 80], "nice": false}, "axis": {"orient": "top", "values": [0, 20, 40, 60, 80], "labels": false, "title": null}},
"y": {"field": "v", "type": "quantitative", "scale": {"domain": [0, 40], "nice": false}, "axis": {"orient": "right", "values": [0, 10, 20, 30, 40], "labels": false, "title": null}}
}}
]
},
{
"data": {"name": "p6"},
"width": 193, "height": 177,
"title": {"text": "$F&R$□FRQFHQWUDWLRQH□YV□WLP", "dx": -22},
"resolve": {"scale": {"x": "independent", "y": "independent"}},
"layer": [
{"mark": {"type": "line", "interpolate": "monotone", "strokeWidth": 2, "clip": true},
"encoding": {
"x": {"field": "t", "type": "quantitative", "scale": {"domain": [0, 80], "nice": false}, "axis": {"values": [0, 20, 40, 60, 80], "labelExpr": "datum.value == 0 ? '□' : '□□'", "title": "WLPH"}},
"y": {"field": "v", "type": "quantitative", "scale": {"domain": [0, 22.4], "nice": false}, "axis": {"values": [0, 5, 10, 15, 20], "labelExpr": "datum.value >= 10 ? '□□' : '□'", "title": "$F&R$□FRQFHQWUDWLRQ"}},
"color": {"field": "s", "type": "nominal", "scale": {"domain": [1, 2, 3, 4, 5], "range": ["#0072BD", "#D95319", "#EDB120", "#7E2F8E", "#77AC30"]}, "legend": null}
}},
{"mark": {"type": "line", "opacity": 0},
"encoding": {
"x": {"field": "t", "type": "quantitative", "scale": {"domain": [0, 80], "nice": false}, "axis": {"orient": "top", "values": [0, 20, 40, 60, 80], "labels": false, "title": null}},
"y": {"field": "v", "type": "quantitative", "scale": {"domain": [0, 22.4], "nice": false}, "axis": {"orient": "right", "values": [0, 5, 10, 15, 20], "labels": false, "title": null}}
}}
]
}
],
"config": {
"font": "Liberation Sans",
"view": {"stroke": "#8c8c8c", "strokeWidth": 1},
"axis": {"domain": false, "grid": false, "ticks": true, "tickSize": -3, "tickColor": "#8c8c8c", "labelFont": "DejaVu Sans", "labelFontSize": 7, "labelColor": "#b5b5b5", "labelPadding": 12, "titleFont": "Liberation Sans", "titleFontSize": 11, "titleFontWeight": "normal", "titleColor": "#262626"},
"axisX": {"labelPadding": 11, "titlePadding": 9},
"axisY": {"titlePadding": 10},
"title": {"font": "Liberation Sans", "fontSize": 11, "fontWeight": "bold", "color": "#000000", "offset": 10, "anchor": "middle"}
}
}
